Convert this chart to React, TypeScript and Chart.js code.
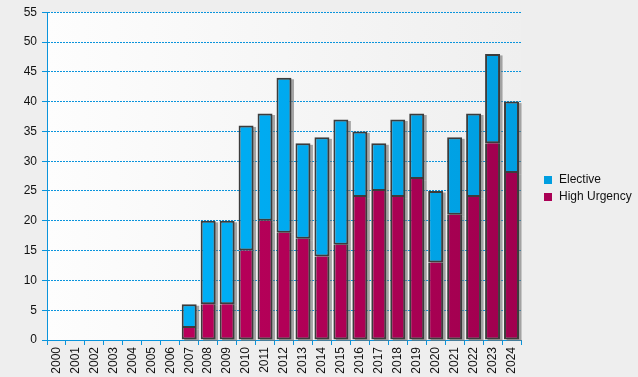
import React, { useEffect, useRef } from "react";
import { Chart, registerables } from "chart.js";

Chart.register(...registerables);

const years = ["2000","2001","2002","2003","2004","2005","2006","2007","2008","2009","2010","2011","2012","2013","2014","2015","2016","2017","2018","2019","2020","2021","2022","2023","2024"];
const highUrgency = [null,null,null,null,null,null,null,2,6,6,15,20,18,17,14,16,24,25,24,27,13,21,24,33,28];
const elective = [null,null,null,null,null,null,null,4,14,14,21,18,26,16,20,21,11,8,13,11,12,13,14,15,12];
const yTicks = [0,5,10,15,20,25,30,35,40,45,50,55];

const FONT = "Arial, 'Liberation Sans', sans-serif";
const BLUE = "#0a94dc";

function grad(chart: any, c1: string, c2: string) {
  const a = chart.chartArea;
  if (!a) return c1;
  const g = chart.ctx.createLinearGradient(a.left, 0, a.right, 0);
  g.addColorStop(0, c1);
  g.addColorStop(1, c2);
  return g;
}

const bgPlugin = {
  id: "bgPlugin",
  beforeDraw(chart: any) {
    const { ctx, chartArea: a, width, height } = chart;
    ctx.save();
    ctx.fillStyle = "#eeeeee";
    ctx.fillRect(0, 0, width, height);
    const g = ctx.createLinearGradient(a.left, 0, a.right, 0);
    g.addColorStop(0, "#fdfdfd");
    g.addColorStop(1, "#efefef");
    ctx.fillStyle = g;
    ctx.fillRect(a.left, a.top, a.right - a.left, a.bottom - a.top);
    ctx.restore();
  },
  beforeDatasetsDraw(chart: any) {
    const { ctx } = chart;
    ctx.save();
    ctx.fillStyle = "rgba(110,110,110,0.6)";
    chart.data.datasets.forEach((_d: any, i: number) => {
      const meta = chart.getDatasetMeta(i);
      meta.data.forEach((el: any, j: number) => {
        const v = chart.data.datasets[i].data[j];
        if (v == null) return;
        const { x, y, base, width } = el.getProps(["x", "y", "base", "width"], true);
        const top = Math.min(y, base);
        const h = Math.abs(base - y);
        ctx.fillRect(x - width / 2 + 2.5, top + 1.5, width, h);
      });
    });
    ctx.restore();
  },
  afterDraw(chart: any) {
    const { ctx } = chart;
    ctx.save();
    const items = [
      { label: chart.data.datasets[1].label, color: "#009ee0" },
      { label: chart.data.datasets[0].label, color: "#aa0055" },
    ];
    ctx.font = "12px " + FONT;
    ctx.textBaseline = "middle";
    items.forEach((it, i) => {
      const y = 180 + i * 17;
      ctx.fillStyle = it.color;
      ctx.fillRect(544, y - 4, 8, 8);
      ctx.fillStyle = "#111";
      ctx.fillText(it.label, 559, y);
    });
    ctx.restore();
  },
};

export default function App() {
  const ref = useRef<HTMLCanvasElement>(null);
  useEffect(() => {
    document.body.style.margin = "0";
    document.body.style.background = "#eeeeee";
    const chart = new Chart(ref.current!, {
      type: "bar",
      data: {
        labels: years,
        datasets: [
          {
            label: "High Urgency",
            data: highUrgency as any,
            backgroundColor: (c: any) => grad(c.chart, "#c4005f", "#a0004f"),
            borderColor: "#3c3c3c",
            borderWidth: 2,
            borderSkipped: "end",
            barPercentage: 0.79,
            categoryPercentage: 1,
          },
          {
            label: "Elective",
            data: elective as any,
            backgroundColor: (c: any) => grad(c.chart, "#00b6ff", "#009ee0"),
            borderColor: "#3c3c3c",
            borderWidth: 2,
            borderSkipped: false,
            barPercentage: 0.79,
            categoryPercentage: 1,
          },
        ],
      },
      options: {
        responsive: false,
        animation: false,
        layout: { padding: { top: 12, right: 117, left: 0, bottom: 0 } },
        plugins: { legend: { display: false }, tooltip: { enabled: false } },
        scales: {
          x: {
            stacked: true,
            afterFit: (s: any) => { s.height = 37; },
            grid: { drawOnChartArea: false, color: BLUE, tickLength: 5, offset: true },
            border: { color: BLUE, width: 1 },
            ticks: {
              minRotation: 90,
              maxRotation: 90,
              autoSkip: false,
              color: "#111",
              padding: 2,
              font: { family: FONT, size: 12 },
            },
          },
          y: {
            stacked: true,
            min: 0,
            max: 55,
            afterFit: (s: any) => { s.width = 47; },
            afterBuildTicks: (s: any) => { s.ticks = yTicks.map((v) => ({ value: v })); },
            grid: {
              color: BLUE,
              tickLength: 5,
              lineWidth: 1,
              tickBorderDash: [],
            } as any,
            border: { color: BLUE, width: 1, dash: [2, 1] as any },
            ticks: {
              color: "#111",
              padding: 5,
              font: { family: FONT, size: 12 },
            },
          },
        },
      },
      plugins: [bgPlugin],
    });
    return () => chart.destroy();
  }, []);
  return <canvas ref={ref} width={638} height={377} />;
}
